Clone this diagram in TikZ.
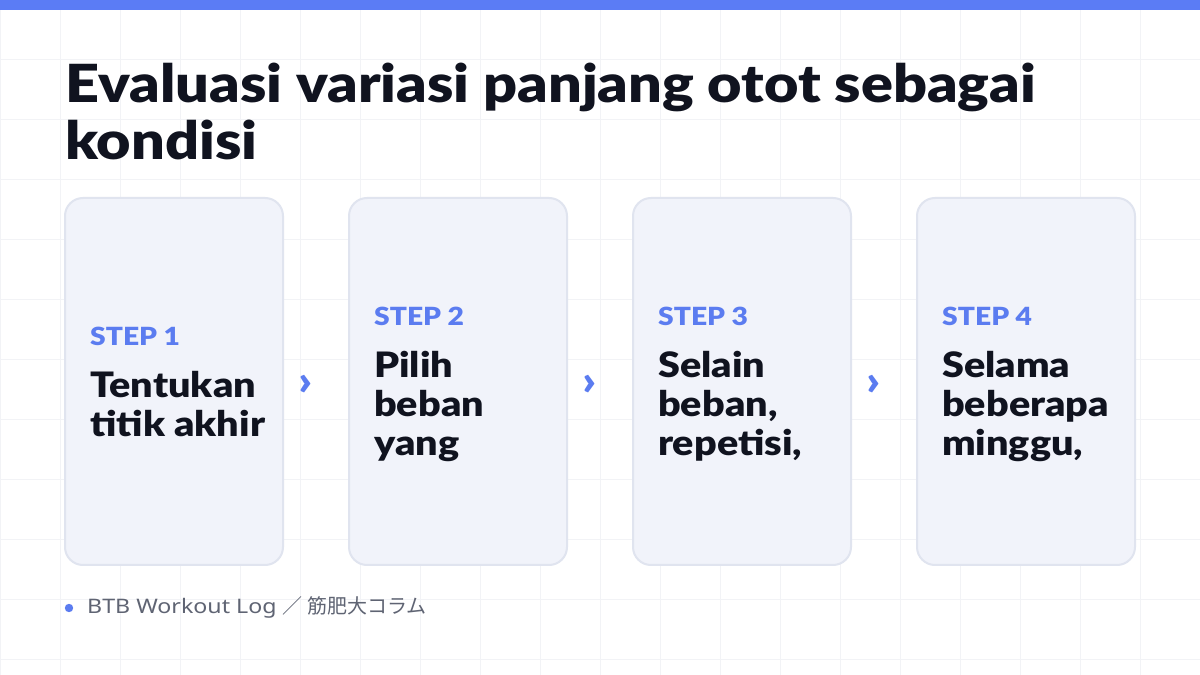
\documentclass[tikz,border=0pt]{standalone}
\usepackage{fontspec}
\setmainfont{Lato}[BoldFont={Lato Black}, FakeStretch=1.13]
\newfontfamily\footfont{Noto Sans}[FakeStretch=1.16]
\newfontfamily\cjk{Noto Sans CJK JP}
\usetikzlibrary{positioning}
\definecolor{barblue}{HTML}{5B7CF5}
\definecolor{stepblue}{HTML}{5B7CF0}
\definecolor{ink}{HTML}{10131F}
\definecolor{cardfill}{HTML}{F1F3FA}
\definecolor{cardline}{HTML}{E0E4EF}
\definecolor{gridc}{HTML}{F2F3F6}
\definecolor{footgray}{HTML}{5F6473}
\tikzset{
    card/.style={shape=rectangle, draw=cardline, line width=2pt, fill=cardfill, outer sep=0pt,
        rounded corners=18pt, minimum width=218pt, minimum height=367pt},
    textblock/.style={align=left, inner sep=0pt, text=ink, yshift=-6pt,
        font=\fontsize{35}{39}\selectfont\bfseries},
    chev/.style={inner sep=0pt, text=stepblue, xshift=-10pt, yshift=-4pt,
        font=\fontsize{42}{42}\selectfont\bfseries}
}
\newcommand{\steplbl}{\color{stepblue}\fontsize{25}{25}\selectfont\bfseries}

\begin{document}
\begin{tikzpicture}[x=1pt, y=1pt]
    % define distances
    \def\gap{66pt}
    \def\pad{25pt}

    % background, grid and top bar
    \useasboundingbox (0,0) rectangle (1200,675);
    \fill[white] (0,0) rectangle (1200,675);
    \draw[gridc, line width=1pt, yshift=15pt] (0,-15) grid[step=60] (1200,660);
    \fill[barblue] (0,665) rectangle (1200,675);

    % title
    \node [align=left, inner sep=0pt, text=ink, anchor=north west,
           font=\fontsize{52.5}{57}\selectfont\bfseries] at (65,612) (title)
          {Evaluasi variasi panjang otot sebagai\\kondisi};

    % cards
    \node [card] at (174,293.5)       (c1) {};
    \node [card, right=\gap of c1]    (c2) {};
    \node [card, right=\gap of c2]    (c3) {};
    \node [card, right=\gap of c3]    (c4) {};

    % card texts (strut on last line keeps the blocks centred alike)
    \node [textblock, right=\pad of c1.west] (t1) {{\steplbl STEP 1}\\[13pt]Tentukan\\titik akhir\strut};
    \node [textblock, right=\pad of c2.west] (t2) {{\steplbl STEP 2}\\[13pt]Pilih\\beban\\yang\strut};
    \node [textblock, right=\pad of c3.west] (t3) {{\steplbl STEP 3}\\[13pt]Selain\\beban,\\repetisi,\strut};
    \node [textblock, right=\pad of c4.west] (t4) {{\steplbl STEP 4}\\[13pt]Selama\\beberapa\\minggu,\strut};

    % chevrons between cards
    \path (c1) -- (c2) node [chev, midway] (a12) {›};
    \path (c2) -- (c3) node [chev, midway] (a23) {›};
    \path (c3) -- (c4) node [chev, midway] (a34) {›};

    % footer
    \fill[stepblue] (69,67) circle (4.2) coordinate (dot);
    \node [inner sep=0pt, anchor=base west, text=footgray,
           font=\footfont\fontsize{20}{20}\selectfont] at (87,61) (src)
          {BTB Workout Log {\cjk ／ 筋肥大コラム}};
\end{tikzpicture}
\end{document}
